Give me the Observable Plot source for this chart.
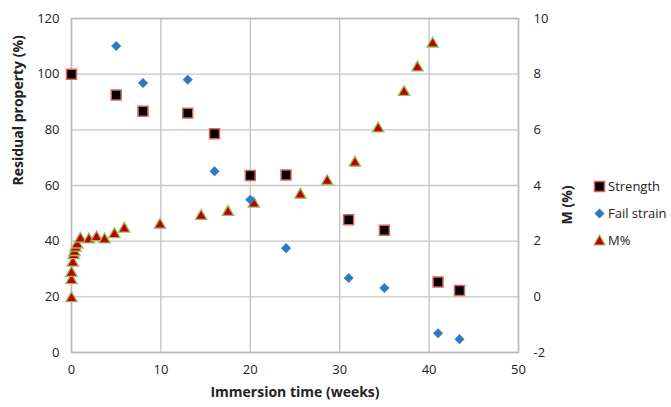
<!DOCTYPE html>
<html>
<head>
<meta charset="utf-8">
<script src="https://cdn.jsdelivr.net/npm/d3@7"></script>
<script src="https://cdn.jsdelivr.net/npm/@observablehq/plot@0.6"></script>
<style>
  html, body { margin: 0; padding: 0; background: #fff; }
  #wrap { position: relative; width: 671px; height: 407px; font-family: "Open Sans", sans-serif; }
  .leg { position: absolute; left: 592px; height: 20px; line-height: 20px; font-size: 13px; color: #222; display: flex; align-items: center; white-space: nowrap; }
  .leg svg { width: 15px; height: 15px; margin-right: 1px; }
</style>
</head>
<body>
<div id="wrap"></div>
<script>
// Weeks of immersion for strength / fail-strain tests
const weeksSF = [0, 5, 8, 13, 16, 20, 24, 31, 35, 41, 43.4];
// Residual strength (%)
const strength = [100, 92.5, 86.7, 86.0, 78.6, 63.6, 63.8, 47.7, 43.9, 25.3, 22.3];
// Residual fail strain (%)
const failStrain = [100, 110.1, 96.8, 98.0, 65.1, 54.9, 37.5, 26.8, 23.2, 6.9, 4.8];
// Weeks for moisture uptake
const weeksM = [0, 0, 0, 0.15, 0.25, 0.33, 0.45, 0.64, 1.0, 1.94, 2.8, 3.7, 4.8, 5.9, 9.9, 14.5, 17.5, 20.4, 25.6, 28.6, 31.7, 34.3, 37.2, 38.7, 40.4];
// Moisture uptake M (%)
const mPct = [0, 0.65, 0.91, 1.28, 1.55, 1.66, 1.82, 1.93, 2.14, 2.11, 2.19, 2.11, 2.30, 2.50, 2.64, 2.96, 3.10, 3.40, 3.72, 4.21, 4.87, 6.10, 7.41, 8.29, 9.15];

const xTicks = [0, 10, 20, 30, 40, 50];
const yTicks = [0, 20, 40, 60, 80, 100, 120];
const mTicks = [-2, 0, 2, 4, 6, 8, 10];
const seriesNames = ["Strength", "Fail strain", "M%"];

// Right axis M (%) spans [-2, 10] mapped onto left [0, 120]
const mToLeft = m => (m + 2) * 10;
const leftToM = v => v / 10 - 2;

const sfData = weeksSF.map((w, i) => ({week: w, strength: strength[i], fail: failStrain[i]}));
const mData = weeksM.map((w, i) => ({week: w, m: mPct[i], v: mToLeft(mPct[i])}));

const gridColor = "#c6c6c6";
const colStrengthFill = "#000000", colStrengthStroke = "#e0605a";
const colFail = "#3178c2";
const colMFill = "#c00000", colMStroke = "#9bbb59";

const chart = Plot.plot({
  width: 671,
  height: 407,
  marginLeft: 71,
  marginRight: 153,
  marginTop: 18,
  marginBottom: 55,
  style: {fontFamily: "Open Sans, sans-serif", fontSize: "13px", color: "#222", background: "#fff"},
  x: {domain: [0, 50]},
  y: {domain: [0, 120]},
  marks: [
    Plot.gridX(xTicks, {stroke: gridColor, strokeOpacity: 1, strokeWidth: 1.4}),
    Plot.gridY(yTicks, {stroke: gridColor, strokeOpacity: 1, strokeWidth: 1.4}),
    Plot.frame({stroke: "#bababa", strokeWidth: 1.5}),
    Plot.axisX(xTicks, {tickSize: 0, tickPadding: 12, label: null, fontSize: 13}),
    Plot.axisY(yTicks, {tickSize: 0, tickPadding: 12, label: null, fontSize: 13}),
    Plot.axisY(mTicks.map(mToLeft), {anchor: "right", tickSize: 0, tickPadding: 15, label: null, fontSize: 13,
      tickFormat: v => String(leftToM(v))}),
    Plot.text(["Immersion time (weeks)"], {frameAnchor: "bottom", dy: 44, fontWeight: "bold", fontSize: 14, fill: "#222"}),
    Plot.text(["Residual property (%)"], {frameAnchor: "left", dx: -53, rotate: -90, fontWeight: "bold", fontSize: 14, fill: "#222"}),
    Plot.text(["M (%)"], {frameAnchor: "right", dx: 49, rotate: -90, fontWeight: "bold", fontSize: 14, fill: "#222"}),
    Plot.dot(mData, {x: "week", y: "v", symbol: "triangle", r: 4.2, fill: colMFill, stroke: colMStroke, strokeWidth: 1.3, dy: 1.6}),
    Plot.dot(sfData, {x: "week", y: "fail", symbol: "diamond2", r: 4.3, fill: colFail, stroke: colFail, strokeWidth: 0.5}),
    Plot.dot(sfData, {x: "week", y: "strength", symbol: "square", r: 5.6, fill: colStrengthFill, stroke: colStrengthStroke, strokeWidth: 1.5})
  ]
});

const wrap = document.getElementById("wrap");
wrap.appendChild(chart);

// Legend
const legendSym = {
  "Strength": `<svg viewBox="-7.5 -7.5 15 15"><rect x="-5" y="-5" width="10" height="10" fill="${colStrengthFill}" stroke="${colStrengthStroke}" stroke-width="1.5"/></svg>`,
  "Fail strain": `<svg viewBox="-7.5 -7.5 15 15"><path d="M0,-5L5,0L0,5L-5,0Z" fill="${colFail}"/></svg>`,
  "M%": `<svg viewBox="-7.5 -7.5 15 15"><path d="M0,-5.5L5.5,4.5L-5.5,4.5Z" fill="${colMFill}" stroke="${colMStroke}" stroke-width="1.2"/></svg>`
};
const legendTops = [176, 203, 230];
seriesNames.forEach((name, i) => {
  const d = document.createElement("div");
  d.className = "leg";
  d.style.top = legendTops[i] + "px";
  d.innerHTML = legendSym[name] + "<span>" + name + "</span>";
  wrap.appendChild(d);
});
</script>
</body>
</html>
